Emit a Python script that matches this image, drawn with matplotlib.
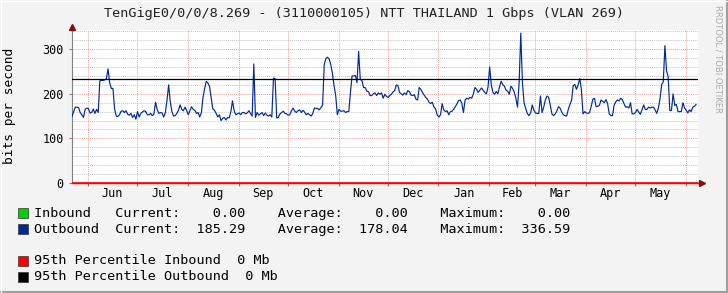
import datetime as dt
import matplotlib
matplotlib.use('Agg')
import matplotlib.pyplot as plt
import matplotlib.dates as mdates
from matplotlib.patches import Rectangle
from matplotlib.lines import Line2D
from matplotlib.ticker import MultipleLocator
import pandas as pd

# one sample per day (Mbit/s)
start = dt.datetime(2016, 5, 22, 6)
outbound = [
    149, 160, 170, 170, 169, 158, 153, 147, 165, 168,
    167, 157, 158, 166, 156, 165, 158, 229, 230, 230,
    231, 234, 256, 225, 212, 212, 166, 150, 149, 153,
    161, 162, 158, 162, 154, 152, 156, 147, 153, 143,
    160, 148, 156, 159, 162, 160, 153, 153, 156, 151,
    154, 181, 165, 156, 158, 157, 148, 158, 185, 220,
    182, 160, 150, 151, 156, 163, 175, 165, 162, 170,
    163, 153, 162, 171, 165, 163, 156, 158, 148, 158,
    192, 212, 228, 224, 216, 190, 166, 163, 156, 148,
    153, 140, 145, 147, 141, 147, 146, 160, 184, 162,
    153, 155, 157, 153, 158, 158, 155, 157, 162, 156,
    150, 267, 147, 158, 152, 155, 158, 151, 157, 152,
    150, 153, 148, 235, 234, 146, 147, 155, 158, 161,
    156, 155, 152, 153, 162, 168, 161, 158, 162, 164,
    158, 163, 159, 153, 156, 153, 150, 156, 168, 167,
    167, 164, 169, 175, 265, 279, 282, 278, 265, 246,
    218, 196, 153, 165, 161, 161, 162, 158, 160, 160,
    203, 240, 240, 241, 225, 295, 232, 230, 214, 214,
    206, 205, 196, 196, 200, 202, 196, 202, 199, 202,
    190, 199, 194, 192, 196, 199, 204, 207, 220, 218,
    203, 200, 197, 202, 198, 207, 205, 197, 196, 198,
    188, 186, 214, 210, 203, 197, 192, 188, 181, 178,
    181, 170, 166, 152, 148, 153, 178, 164, 160, 162,
    153, 160, 161, 165, 171, 177, 185, 186, 179, 158,
    186, 190, 188, 192, 190, 199, 214, 210, 203, 208,
    213, 208, 203, 200, 215, 260, 220, 203, 199, 205,
    200, 215, 228, 221, 217, 208, 206, 199, 217, 212,
    204, 190, 170, 225, 336, 225, 180, 167, 156, 151,
    157, 175, 163, 157, 156, 156, 195, 158, 170, 186,
    195, 192, 175, 155, 151, 155, 161, 171, 168, 159,
    153, 151, 150, 165, 176, 185, 218, 221, 210, 220,
    234, 210, 155, 160, 157, 156, 158, 172, 188, 190,
    171, 172, 174, 186, 183, 180, 187, 178, 155, 151,
    151, 175, 182, 186, 184, 190, 187, 178, 170, 171,
    168, 180, 155, 155, 158, 165, 159, 154, 164, 175,
    165, 165, 170, 168, 170, 170, 164, 156, 168, 189,
    220, 227, 308, 251, 238, 162, 163, 200, 174, 176,
    160, 160, 160, 180, 168, 163, 157, 164, 160, 170,
    172, 176,
]
inbound = [0] * len(outbound)
pct95_out = 233
pct95_in = 0
span_days = 382.2

month_labels = ['Jun', 'Jul', 'Aug', 'Sep', 'Oct', 'Nov', 'Dec',
                'Jan', 'Feb', 'Mar', 'Apr', 'May']

title = 'TenGigE0/0/0/8.269 - (3110000105) NTT THAILAND 1 Gbps (VLAN 269)'
legend_rows = [
    'Inbound   Current:    0.00    Average:    0.00    Maximum:    0.00',
    'Outbound  Current:  185.29    Average:  178.04    Maximum:  336.59',
]
pct_rows = ['95th Percentile Inbound  0 Mb', '95th Percentile Outbound  0 Mb']

W, H = 728, 293
MONO = 'DejaVu Sans Mono'


def fx(x):
    return x / W


def fy(y):
    return 1 - y / H


fig = plt.figure(figsize=(W / 100, H / 100), dpi=100, facecolor='#f3f3f3')
ax = fig.add_axes([fx(72), fy(183), (698 - 72) / W, (183 - 30) / H])
ax.set_facecolor('white')

dates = pd.date_range(start, periods=len(outbound), freq='D')
ax.plot(dates, inbound, color='#00cf00', lw=0.8, zorder=3)
ax.plot(dates, outbound, color='#002a97', lw=0.85, zorder=4)
ax.axhline(pct95_out, color='black', lw=0.9, zorder=5)
ax.axhline(pct95_in, color='#ff0000', lw=1.2, zorder=6)

ax.set_xlim(start, start + dt.timedelta(days=span_days))
ax.set_ylim(0, 343)

# grid
ax.yaxis.set_major_locator(MultipleLocator(100))
ax.yaxis.set_minor_locator(MultipleLocator(20))
ax.grid(axis='y', which='minor', color='#c8c8c8', ls=(0, (1, 1)), lw=0.7)
ax.grid(axis='y', which='major', color='#eba2a2', ls=(0, (1, 1)), lw=0.7)
ax.xaxis.set_major_locator(mdates.MonthLocator())
ax.xaxis.set_major_formatter(plt.NullFormatter())
ax.grid(axis='x', which='major', color='#eba2a2', ls=(0, (1, 1)), lw=0.7)
ax.set_axisbelow(True)

months = pd.date_range('2016-06-01', periods=13, freq='MS')
mids = [months[i] + (months[i + 1] - months[i]) / 2 for i in range(12)]
ax.set_xticks(mids, minor=True)
ax.set_xticklabels(month_labels, minor=True, family=MONO, fontsize=8.5)
ax.tick_params(axis='x', which='minor', length=0, pad=3)
ax.tick_params(axis='x', which='major', length=2, color='#808080')
ax.tick_params(axis='y', which='major', length=2, color='#808080',
               labelsize=8.5, pad=4)
ax.tick_params(axis='y', which='minor', length=0)
for lab in ax.get_yticklabels():
    lab.set_family(MONO)

for s in ('top', 'right'):
    ax.spines[s].set_visible(False)
ax.spines['left'].set_color('#808080')
ax.spines['left'].set_linewidth(0.8)
ax.spines['bottom'].set_color('#ff0000')
ax.spines['bottom'].set_linewidth(1.0)

# axis arrows
ax.plot([0, 0], [1.0, 1.02], color='#808080', lw=0.8, transform=ax.transAxes,
        clip_on=False)
ax.plot([1.0, 1.006], [0, 0], color='#ff0000', lw=1.0, transform=ax.transAxes,
        clip_on=False)
ax.plot([0], [1.02], marker='^', color='#7f1010', ms=4, transform=ax.transAxes,
        clip_on=False, zorder=8)
ax.plot([1.006], [0], marker='>', color='#7f1010', ms=4,
        transform=ax.transAxes, clip_on=False, zorder=8)

fig.text(fx(364), fy(13), title, ha='center', va='center', family=MONO,
         fontsize=9.7, color='#222222')
fig.text(fx(10), fy(106), 'bits per second', rotation=90, ha='center',
         va='center', family=MONO, fontsize=9.3)
fig.text(fx(718), fy(5), 'RRDTOOL / TOBI OETIKER', rotation=270, ha='center',
         va='top', family='DejaVu Sans', fontsize=6, color='#aaaaaa')

# legend
swatches = ['#00cf00', '#002a97', '#ff0000', '#000000']
rows_y = [213, 229, 261, 277]
texts = legend_rows + pct_rows
for col, y, txt in zip(swatches, rows_y, texts):
    fig.patches.append(Rectangle((fx(17.5), fy(y + 5)), 10 / W, 10 / H,
                                 transform=fig.transFigure, facecolor=col,
                                 edgecolor='#333333', lw=0.5))
    fig.text(fx(34), fy(y), txt, ha='left', va='center', family=MONO,
             fontsize=9.7)

# frame shading
fig.add_artist(Line2D([0, 1], [fy(292), fy(292)], color='#9e9e9e', lw=1.5))
fig.add_artist(Line2D([fx(727), fx(727)], [0, 1], color='#9e9e9e', lw=1.5))
fig.add_artist(Line2D([0, 1], [fy(0.5), fy(0.5)], color='#ffffff', lw=1))
fig.add_artist(Line2D([fx(0.5), fx(0.5)], [0, 1], color='#ffffff', lw=1))

fig.savefig('out.png', dpi=100, facecolor=fig.get_facecolor())
